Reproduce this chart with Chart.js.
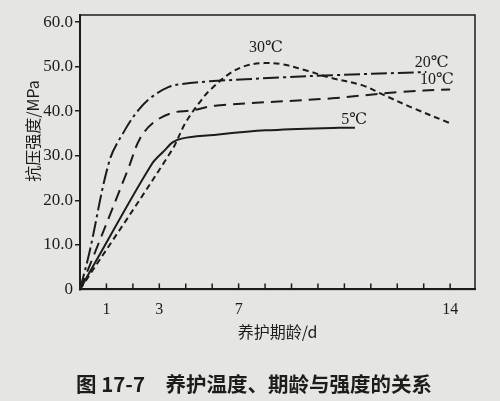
<!DOCTYPE html>
<html>
<head>
<meta charset="utf-8">
<script src="https://cdn.jsdelivr.net/npm/chart.js@4/dist/chart.umd.min.js"></script>
<style>
  html, body { margin: 0; padding: 0; background: #e5e5e2; }
  #wrap { width: 500px; height: 401px; }
</style>
</head>
<body>
<div id="wrap"><canvas id="strengthChart"></canvas></div>
<script>
// curing age (d) and compressive strength (MPa)
const days5 = [0, 0.6, 2.7, 3.2, 3.5, 3.88, 4.9, 7.03, 9.81, 10.4];
const str5 = [0, 6.3, 28.0, 31.2, 33.0, 33.9, 34.6, 35.7, 36.3, 36.3];

const days10 = [0, 0.6, 1.85, 2.27, 2.79, 3.47, 4.23, 5.19, 9.54, 12.02, 14.0];
const str10 = [0, 8.8, 27.5, 33.9, 37.5, 39.6, 40.2, 41.3, 42.9, 44.3, 44.9];

const days20 = [0, 0.35, 1.12, 1.69, 2.2, 2.69, 3.34, 3.84, 4.89, 7.64, 9.58, 13.1];
const str20 = [0, 8.1, 29.0, 35.7, 40.2, 43.1, 45.4, 46.1, 46.7, 47.6, 48.1, 48.8];

const days30 = [0, 3.47, 3.98, 4.5, 4.91, 5.67, 6.32, 6.98, 7.6, 8.53, 9.42, 10.69, 11.36, 12.6, 14.0];
const str30 = [0, 31.2, 37.3, 41.8, 44.7, 48.5, 50.3, 50.8, 50.6, 49.2, 47.6, 45.8, 44.0, 40.7, 37.3];

// curve labels, placed in data units
const curveNames = ["30℃", "20℃", "10℃", "5℃"];
const curveLabelDays = [7.03, 13.3, 13.5, 10.37];
const curveLabelValues = [54.2, 50.8, 47.0, 38.0];

// axis ticks (the printed figure puts "7" on the sixth tick)
const xTickValues = [1, 2, 3, 4, 5, 6, 7, 8, 9, 10, 11, 12, 13, 14];
const xTickLabels = ["", "1", "", "3", "", "", "7", "", "", "", "", "", "", "", "14"];
const yTickValues = [0, 10, 20, 30, 40, 50, 60];

const INK = "#1c1c1c";

function pts(xs, ys) {
    return xs.map((x, i) => ({ x, y: ys[i] }));
}

const extras = {
    id: "extras",
    afterDatasetsDraw(chart) {
        const { ctx, chartArea: a, scales: { x, y } } = chart;
        ctx.save();
        // frame
        ctx.strokeStyle = INK;
        ctx.lineWidth = 1.5;
        ctx.strokeRect(a.left, a.top, a.right - a.left, a.bottom - a.top);
        // inward ticks on the age axis
        xTickValues.forEach(v => {
            const px = x.getPixelForValue(v);
            ctx.beginPath();
            ctx.moveTo(px, a.bottom);
            ctx.lineTo(px, a.bottom - 6);
            ctx.stroke();
        });
        // curve labels
        ctx.fillStyle = INK;
        ctx.font = "16px 'Liberation Serif', 'DejaVu Serif', serif";
        ctx.textAlign = "center";
        ctx.textBaseline = "middle";
        curveNames.forEach((name, i) => {
            ctx.fillText(name, x.getPixelForValue(curveLabelDays[i]), y.getPixelForValue(curveLabelValues[i]));
        });
        // y axis title
        ctx.font = "16px 'Noto Sans CJK SC', sans-serif";
        ctx.translate(33, 131);
        ctx.rotate(-Math.PI / 2);
        ctx.fillText("抗压强度/MPa", 0, 0);
        ctx.restore();
    }
};

const common = { borderColor: INK, borderWidth: 2, pointRadius: 0, fill: false, tension: 0.35 };

new Chart(document.getElementById("strengthChart"), {
    type: "line",
    data: {
        datasets: [
            { ...common, label: "5℃", data: pts(days5, str5) },
            { ...common, label: "10℃", data: pts(days10, str10), borderDash: [12, 7] },
            { ...common, label: "20℃", data: pts(days20, str20), borderDash: [16, 4, 3, 4] },
            { ...common, label: "30℃", data: pts(days30, str30), borderDash: [6, 4] }
        ]
    },
    options: {
        responsive: true,
        maintainAspectRatio: false,
        animation: false,
        layout: { padding: { top: 15, right: 25, left: 33, bottom: 0 } },
        plugins: {
            legend: { display: false },
            tooltip: { enabled: false },
            title: {
                display: true,
                position: "bottom",
                text: "图 17-7　养护温度、期龄与强度的关系",
                color: INK,
                font: { family: "'Noto Sans CJK SC', sans-serif", size: 20.5, weight: "bold" },
                padding: { top: 8, bottom: 4 }
            }
        },
        scales: {
            x: {
                type: "linear",
                min: 0,
                max: 14.94,
                afterBuildTicks: s => { s.ticks = xTickValues.map(v => ({ value: v })); },
                afterFit: s => { s.height = 75; },
                ticks: {
                    autoSkip: false,
                    maxRotation: 0,
                    padding: 3,
                    color: INK,
                    font: { family: "'Liberation Serif', serif", size: 16 },
                    callback: v => xTickLabels[v] || ""
                },
                grid: { display: false },
                border: { display: true, color: INK, width: 2 },
                title: {
                    display: true,
                    text: "养护期龄/d",
                    color: INK,
                    font: { family: "'Noto Sans CJK SC', sans-serif", size: 16 },
                    padding: { top: 0, bottom: 23 }
                }
            },
            y: {
                min: 0,
                max: 61.6,
                afterBuildTicks: s => { s.ticks = yTickValues.map(v => ({ value: v })); },
                afterFit: s => { s.width = 47; },
                ticks: {
                    padding: 2,
                    color: INK,
                    font: { family: "'Liberation Serif', serif", size: 17 },
                    callback: v => (v === 0 ? "0" : v.toFixed(1))
                },
                grid: {
                    drawOnChartArea: false,
                    drawTicks: true,
                    tickLength: 5,
                    lineWidth: 1.5,
                    color: c => (c.tick && c.tick.value === 0 ? "rgba(0,0,0,0)" : INK)
                },
                border: { display: true, color: INK, width: 2 }
            }
        }
    },
    plugins: [extras]
});
</script>
</body>
</html>
